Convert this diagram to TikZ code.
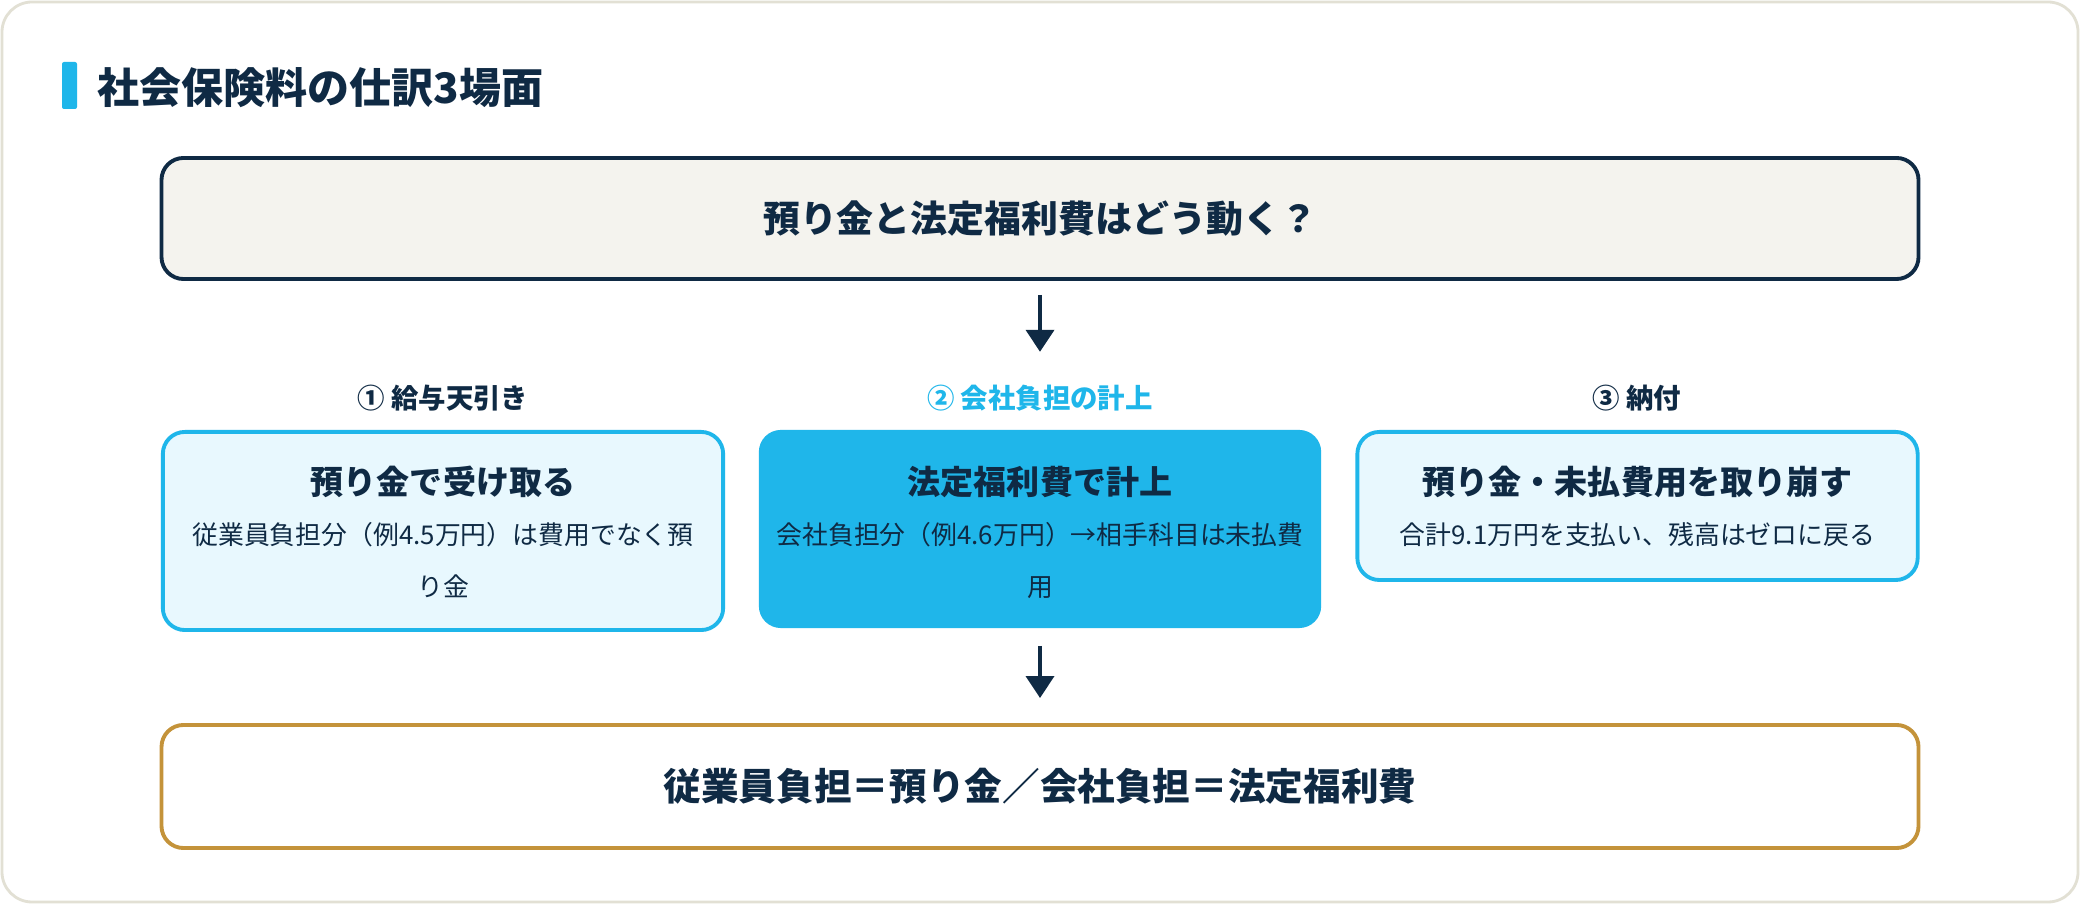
\documentclass[tikz,border=0pt]{standalone}
\usepackage{fontspec}
\setmainfont{Noto Sans CJK JP}
\usetikzlibrary{arrows.meta}
\definecolor{navy}{HTML}{0F2A44}
\definecolor{sky}{HTML}{1FB6EA}
\definecolor{skylight}{HTML}{E8F8FE}
\definecolor{paper}{HTML}{F4F3EE}
\definecolor{gold}{HTML}{C4933A}
\definecolor{frame}{HTML}{E2E0D4}
\begin{document}
\begin{tikzpicture}[x=0.01cm,y=-0.01cm,>={Triangle[length=2.2mm,width=2.8mm]},line join=round]
				\tikzset{
						card/.style={draw=sky,line width=1.1pt,fill=skylight,rounded corners=0.22cm,minimum width=5.6cm,anchor=north,inner sep=0pt},
						wide/.style={line width=1.1pt,rounded corners=0.22cm,minimum width=17.56cm,text=navy,font=\fontsize{10.7}{10.7}\selectfont\bfseries},
						ttl/.style={text=navy,font=\fontsize{9.4}{9.4}\selectfont\bfseries,anchor=base,inner sep=0pt},
						dsc/.style={text=navy,font=\fontsize{7.35}{7.35}\selectfont,anchor=base,inner sep=0pt},
						lbl/.style={text=navy,font=\fontsize{7.8}{7.8}\selectfont\bfseries,anchor=base,inner sep=0pt},
						flow/.style={->,draw=navy,line width=1.1pt}
				}
				\useasboundingbox (0,0) rectangle (2080,904);
				\fill[white] (0,0) rectangle (2080,904);
				\draw[frame,line width=0.8pt,fill=white,rounded corners=0.3cm] (2,2) rectangle (2078,902);
				\fill[sky,rounded corners=0.02cm] (62,62) rectangle (77,109);
				\node[anchor=base west,inner sep=0pt,text=navy,font=\fontsize{11.95}{12}\selectfont\bfseries] (head) at (97,104) {社会保険料の仕訳3場面};
				\node[wide,draw=navy,fill=paper,minimum height=1.21cm,font=\fontsize{10.5}{10.5}\selectfont\bfseries] (q) at (1040,218.5) {預り金と法定福利費はどう動く？};
				\foreach \n/\x/\txt in {1/443/① 給与天引き,3/1637/③ 納付}{
					\node[lbl] (l\n) at (\x,408.5) {\txt};
				}
				\node[lbl,text=sky] (l2) at (1040,408.5) {② 会社負担の計上};
				\node[card,minimum height=1.98cm] (b1) at (443,430) {};
				\node[card,minimum height=1.98cm,draw=none,fill=sky,minimum width=5.62cm] (b2) at (1040,428) {};
				\node[card,minimum height=1.48cm] (b3) at (1637.5,430) {};
				\node[ttl] (t1) at (443,494.5) {預り金で受け取る};
				\node[dsc] (d1) at (443,544.8) {従業員負担分（例4.5万円）は費用でなく預};
				\node[dsc] (e1) at (443,596.8) {り金};
				\node[ttl] (t2) at (1040,494.5) {法定福利費で計上};
				\node[dsc] (d2) at (1040,544.8) {会社負担分（例4.6万円）→相手科目は未払費};
				\node[dsc] (e2) at (1040,596.8) {用};
				\node[ttl] (t3) at (1637.5,494.5) {預り金・未払費用を取り崩す};
				\node[dsc] (d3) at (1637.5,544.8) {合計9.1万円を支払い、残高はゼロに戻る};
				\node[wide,draw=gold,fill=white,minimum height=1.23cm] (sum) at (1040,786.5) {従業員負担＝預り金／会社負担＝法定福利費};
				\draw[flow,shorten <=0.14cm,shorten >=0.325cm] (q) -- (l2);
				\draw[flow,shorten <=0.16cm,shorten >=0.25cm] (b2) -- (sum);
			\end{tikzpicture}
\end{document}
